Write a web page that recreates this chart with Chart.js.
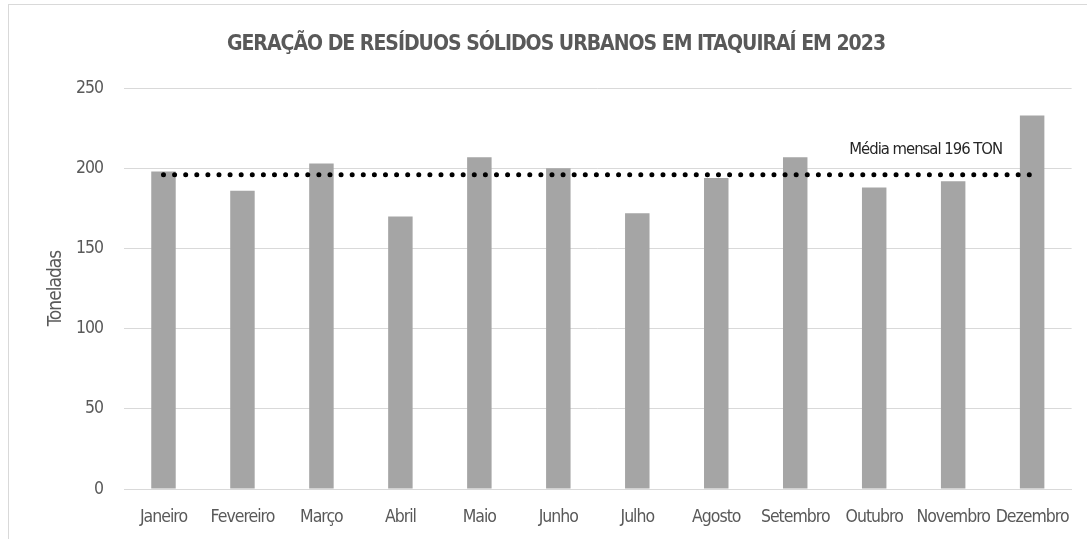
<!DOCTYPE html>
<html lang="pt-BR">
<head>
<meta charset="utf-8">
<title>Geração de resíduos sólidos urbanos em Itaquiraí em 2023</title>
<script src="https://cdn.jsdelivr.net/npm/chart.js@4.4.1/dist/chart.umd.min.js"></script>
<style>
  body { margin: 0; background: #fff; overflow: hidden; }
  #wrap { position: relative; width: 1087px; height: 539px; overflow: hidden; }
  #frame { position: absolute; left: 8px; top: 4px; width: 1200px; height: 700px; border: 1px solid #d9d9d9; }
  #chart { position: absolute; left: 0; top: 0; }
</style>
</head>
<body>
<div id="wrap">
  <div id="frame"></div>
  <canvas id="chart" width="1087" height="539"></canvas>
</div>
<script>
// Data
const meses = ["Janeiro", "Fevereiro", "Março", "Abril", "Maio", "Junho", "Julho", "Agosto", "Setembro", "Outubro", "Novembro", "Dezembro"];
const toneladas = [198, 186, 203, 170, 207, 200, 172, 194, 207, 188, 192, 233];
const mediaMensal = 196;
const mediaTexto = "Média mensal 196 TON";
const eixoY = { min: 0, max: 250, step: 50 };

const fonte = "'DejaVu Sans Condensed', 'Liberation Sans Narrow', sans-serif";
const cinzaTexto = "#595959";
const cinzaGrade = "#d9d9d9";

// tighter letters so the text looks narrow like the original font
const textoEstreito = {
  id: "textoEstreito",
  beforeLayout(chart) {
    chart.ctx.letterSpacing = "-1px";
  },
  beforeDraw(chart) {
    chart.ctx.letterSpacing = "-1px";
  },
};

// label above the dotted average line
const mediaLabel = {
  id: "mediaLabel",
  afterDatasetsDraw(chart) {
    const x = chart.scales.x;
    const y = chart.scales.y;
    const ctx = chart.ctx;
    ctx.save();
    ctx.font = "16.5px " + fonte;
    ctx.fillStyle = "#262626";
    ctx.textAlign = "right";
    ctx.textBaseline = "middle";
    ctx.fillText(mediaTexto, x.getPixelForValue(meses.length - 1) - 30, y.getPixelForValue(mediaMensal) - 25);
    ctx.restore();
  },
};

new Chart(document.getElementById("chart"), {
  type: "bar",
  data: {
    labels: meses,
    datasets: [
      {
        type: "line",
        label: "Média mensal",
        data: meses.map(() => mediaMensal),
        borderColor: "#000",
        borderWidth: 5,
        borderDash: [0, 11.1],
        borderCapStyle: "round",
        pointRadius: 0,
        fill: false,
        order: 0,
      },
      {
        label: "Toneladas",
        data: toneladas,
        backgroundColor: "#a5a5a5",
        barPercentage: 0.31,
        categoryPercentage: 1,
        order: 1,
      },
    ],
  },
  options: {
    responsive: false,
    animation: false,
    layout: { padding: { left: 36, right: 11, top: 0, bottom: 0 } },
    plugins: {
      legend: { display: false },
      tooltip: { enabled: false },
      title: {
        display: true,
        text: "GERAÇÃO DE RESÍDUOS SÓLIDOS URBANOS EM ITAQUIRAÍ EM 2023",
        color: cinzaTexto,
        font: { family: fonte, size: 21, weight: "bold" },
        padding: { top: 32, bottom: 31 },
      },
    },
    scales: {
      x: {
        grid: { display: false, drawTicks: false },
        border: { color: cinzaGrade, width: 1 },
        ticks: {
          color: cinzaTexto,
          font: { family: fonte, size: 17.5 },
          padding: 18,
          maxRotation: 0,
          autoSkip: false,
        },
        afterFit(scale) {
          scale.height = 50;
        },
      },
      y: {
        min: eixoY.min,
        max: eixoY.max,
        grid: { color: cinzaGrade, lineWidth: 1, drawTicks: false },
        border: { display: false },
        ticks: {
          stepSize: eixoY.step,
          color: cinzaTexto,
          font: { family: fonte, size: 17.5 },
          padding: 21,
        },
        title: {
          display: true,
          text: "Toneladas",
          color: cinzaTexto,
          font: { family: fonte, size: 19 },
          padding: { top: 9, bottom: 0 },
        },
        afterFit(scale) {
          scale.width = 88;
        },
      },
    },
  },
  plugins: [textoEstreito, mediaLabel],
});
</script>
</body>
</html>
